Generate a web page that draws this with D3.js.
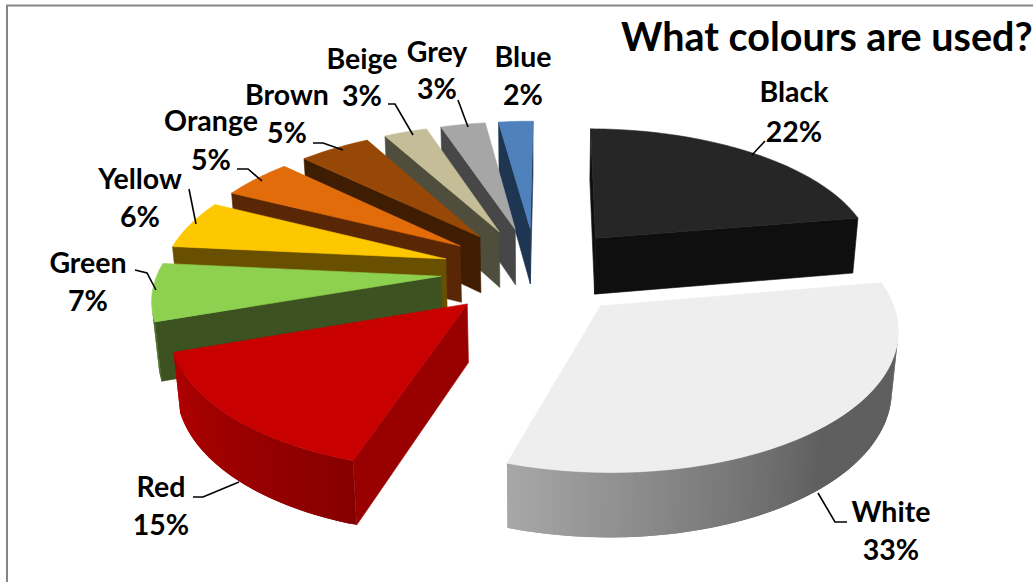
<!DOCTYPE html>
<html><head><meta charset="utf-8">
<script src="https://cdn.jsdelivr.net/npm/d3@7/dist/d3.min.js"></script>
<style>html,body{margin:0;padding:0;background:#fff;overflow:hidden}</style>
</head><body><svg id="c" width="1033" height="582"></svg>
<script>
const categories = ["Black","White","Red","Green","Yellow","Orange","Brown","Beige","Grey","Blue"];
const values = [22.2,32.6,14.8,6.8,5.8,4.8,4.8,2.9,3.0,2.3];
const titleText = "What colours are used?";
const topColors = ["#262626","#eeeeee","#c80000","#8ed04f","#fdc800","#e26b0a","#974806","#c4bd97","#a6a6a6","#4f81bd"];
const wallColors = ["#0f0f0f","#5f5f5f","#990000","#3c5220","#685000","#5a2706","#3f1d02","#4f4d3c","#474747","#1f3653"];
const rimColors = [["#0f0f0f","#0f0f0f"],["#5f5f5f","#5f5f5f","#a8a8a8"],["#870000","#b00000"],["#4a6a28","#4a6a28"],["#685000","#685000"],["#5a2706","#5a2706"],["#3f1d02","#3f1d02"],["#4f4d3c","#4f4d3c"],["#474747","#474747"],["#1f3653","#1f3653"]];
const labelCenters = [[794,92,132],[891,512,550],[161,487,525],[88,263,301],[140,179,217],[211,121,160],[287,95,133],[362,59,96],[437,52,89],[523,57,95]];
const leaders = [[[752,155],[765,141]],[[818,493],[835,522],[847,522]],[[239,482],[203,497],[193,497]],[[156,290],[147,273],[135,270]],[[196,224],[189,189]],[[262,181],[248,169],[237,169]],[[343,150],[323,143],[313,143]],[[413,135],[395,104],[388,104]],[[468,127],[458,100]],[]];

const W=1033,H=582;
const svg=d3.select("#c");
svg.append("path").attr("d",d3.line()([[7,H],[7,5.5],[W,5.5]])).attr("fill","none").attr("stroke","#868686").attr("stroke-width",2);

const cx=536, cy=271, D=1810, f=1810, tilt=28*Math.PI/180, s=Math.sin(tilt), c=Math.cos(tilt);
const R=283, expl=95, depth=66;
const rot=0.5*Math.PI/180;
function proj(X,Y,Z){const q=D+Y*c-Z*s;return [cx+f*X/q, cy-f*(Y*s+Z*c)/q];}
const pie=d3.pie().sort(null).startAngle(rot).endAngle(2*Math.PI+rot);
const arcs=pie(values).map((a,i)=>{
  const mid=(a.startAngle+a.endAngle)/2;
  return {...a,i,mid,ox:expl*Math.sin(mid),oy:expl*Math.cos(mid)};
});
const line=d3.line();
const pt=(a,th,r,z)=>proj(a.ox+r*Math.sin(th),a.oy+r*Math.cos(th),z);
const area=p=>d3.polygonArea(p);
const order=arcs.slice().sort((a,b)=>b.oy-a.oy);
order.forEach(a=>{
  const g=svg.append("g");
  const sA=a.startAngle,eA=a.endAngle;
  const steps=Math.max(6,Math.ceil((eA-sA)/0.02));
  const ths=d3.range(steps+1).map(k=>sA+(eA-sA)*k/steps);
  const col=d3.scaleLinear().domain(d3.range(rimColors[a.i].length).map(k=>sA+(eA-sA)*k/(rimColors[a.i].length-1))).range(rimColors[a.i]);
  const quad=(p,fill,w)=>g.append("path").attr("d",line(p)+"Z").attr("fill",fill).attr("stroke",fill).attr("stroke-width",w);
  const wallS=[pt(a,0,0,0),pt(a,sA,R,0),pt(a,sA,R,-depth),pt(a,0,0,-depth)];
  const wallE=[pt(a,eA,R,0),pt(a,0,0,0),pt(a,0,0,-depth),pt(a,eA,R,-depth)];
  if(area(wallS)>0) quad(wallS,wallColors[a.i],0.6);
  if(area(wallE)>0) quad(wallE,wallColors[a.i],0.6);
  // overlapping rim segments, each reaching past its neighbour, so that no seams show
  for(let k=0;k<steps;k++){
    const t2=ths[Math.min(k+2,steps)];
    const q=[pt(a,ths[k],R,0),pt(a,t2,R,0),pt(a,t2,R,-depth),pt(a,ths[k],R,-depth)];
    if(area(q)>0) g.append("path").attr("d",line(q)+"Z").attr("fill",col((ths[k]+ths[k+1])/2));
  }
  const top=[pt(a,0,0,0)].concat(ths.map(t=>pt(a,t,R,0)));
  quad(top,topColors[a.i],0.6);
});
svg.append("g").selectAll("path").data(leaders.filter(l=>l.length)).join("path")
  .attr("d",d=>line(d)).attr("fill","none").attr("stroke","#000").attr("stroke-width",1.6);
const lab=svg.append("g").attr("font-family","Lato").attr("font-weight",700).attr("font-size",28.5).attr("text-anchor","middle").attr("fill","#000");
categories.forEach((n,i)=>{
  const [x,y1,y2]=labelCenters[i];
  lab.append("text").attr("x",x).attr("y",y1).attr("dy","0.35em").text(n);
  lab.append("text").attr("x",x).attr("y",y2).attr("dy","0.35em").text(Math.round(values[i])+"%");
});
svg.append("text").attr("x",621).attr("y",51).attr("font-family","Lato").attr("font-weight",700).attr("font-size",39.5).attr("fill","#000").text(titleText);
</script></body></html>
